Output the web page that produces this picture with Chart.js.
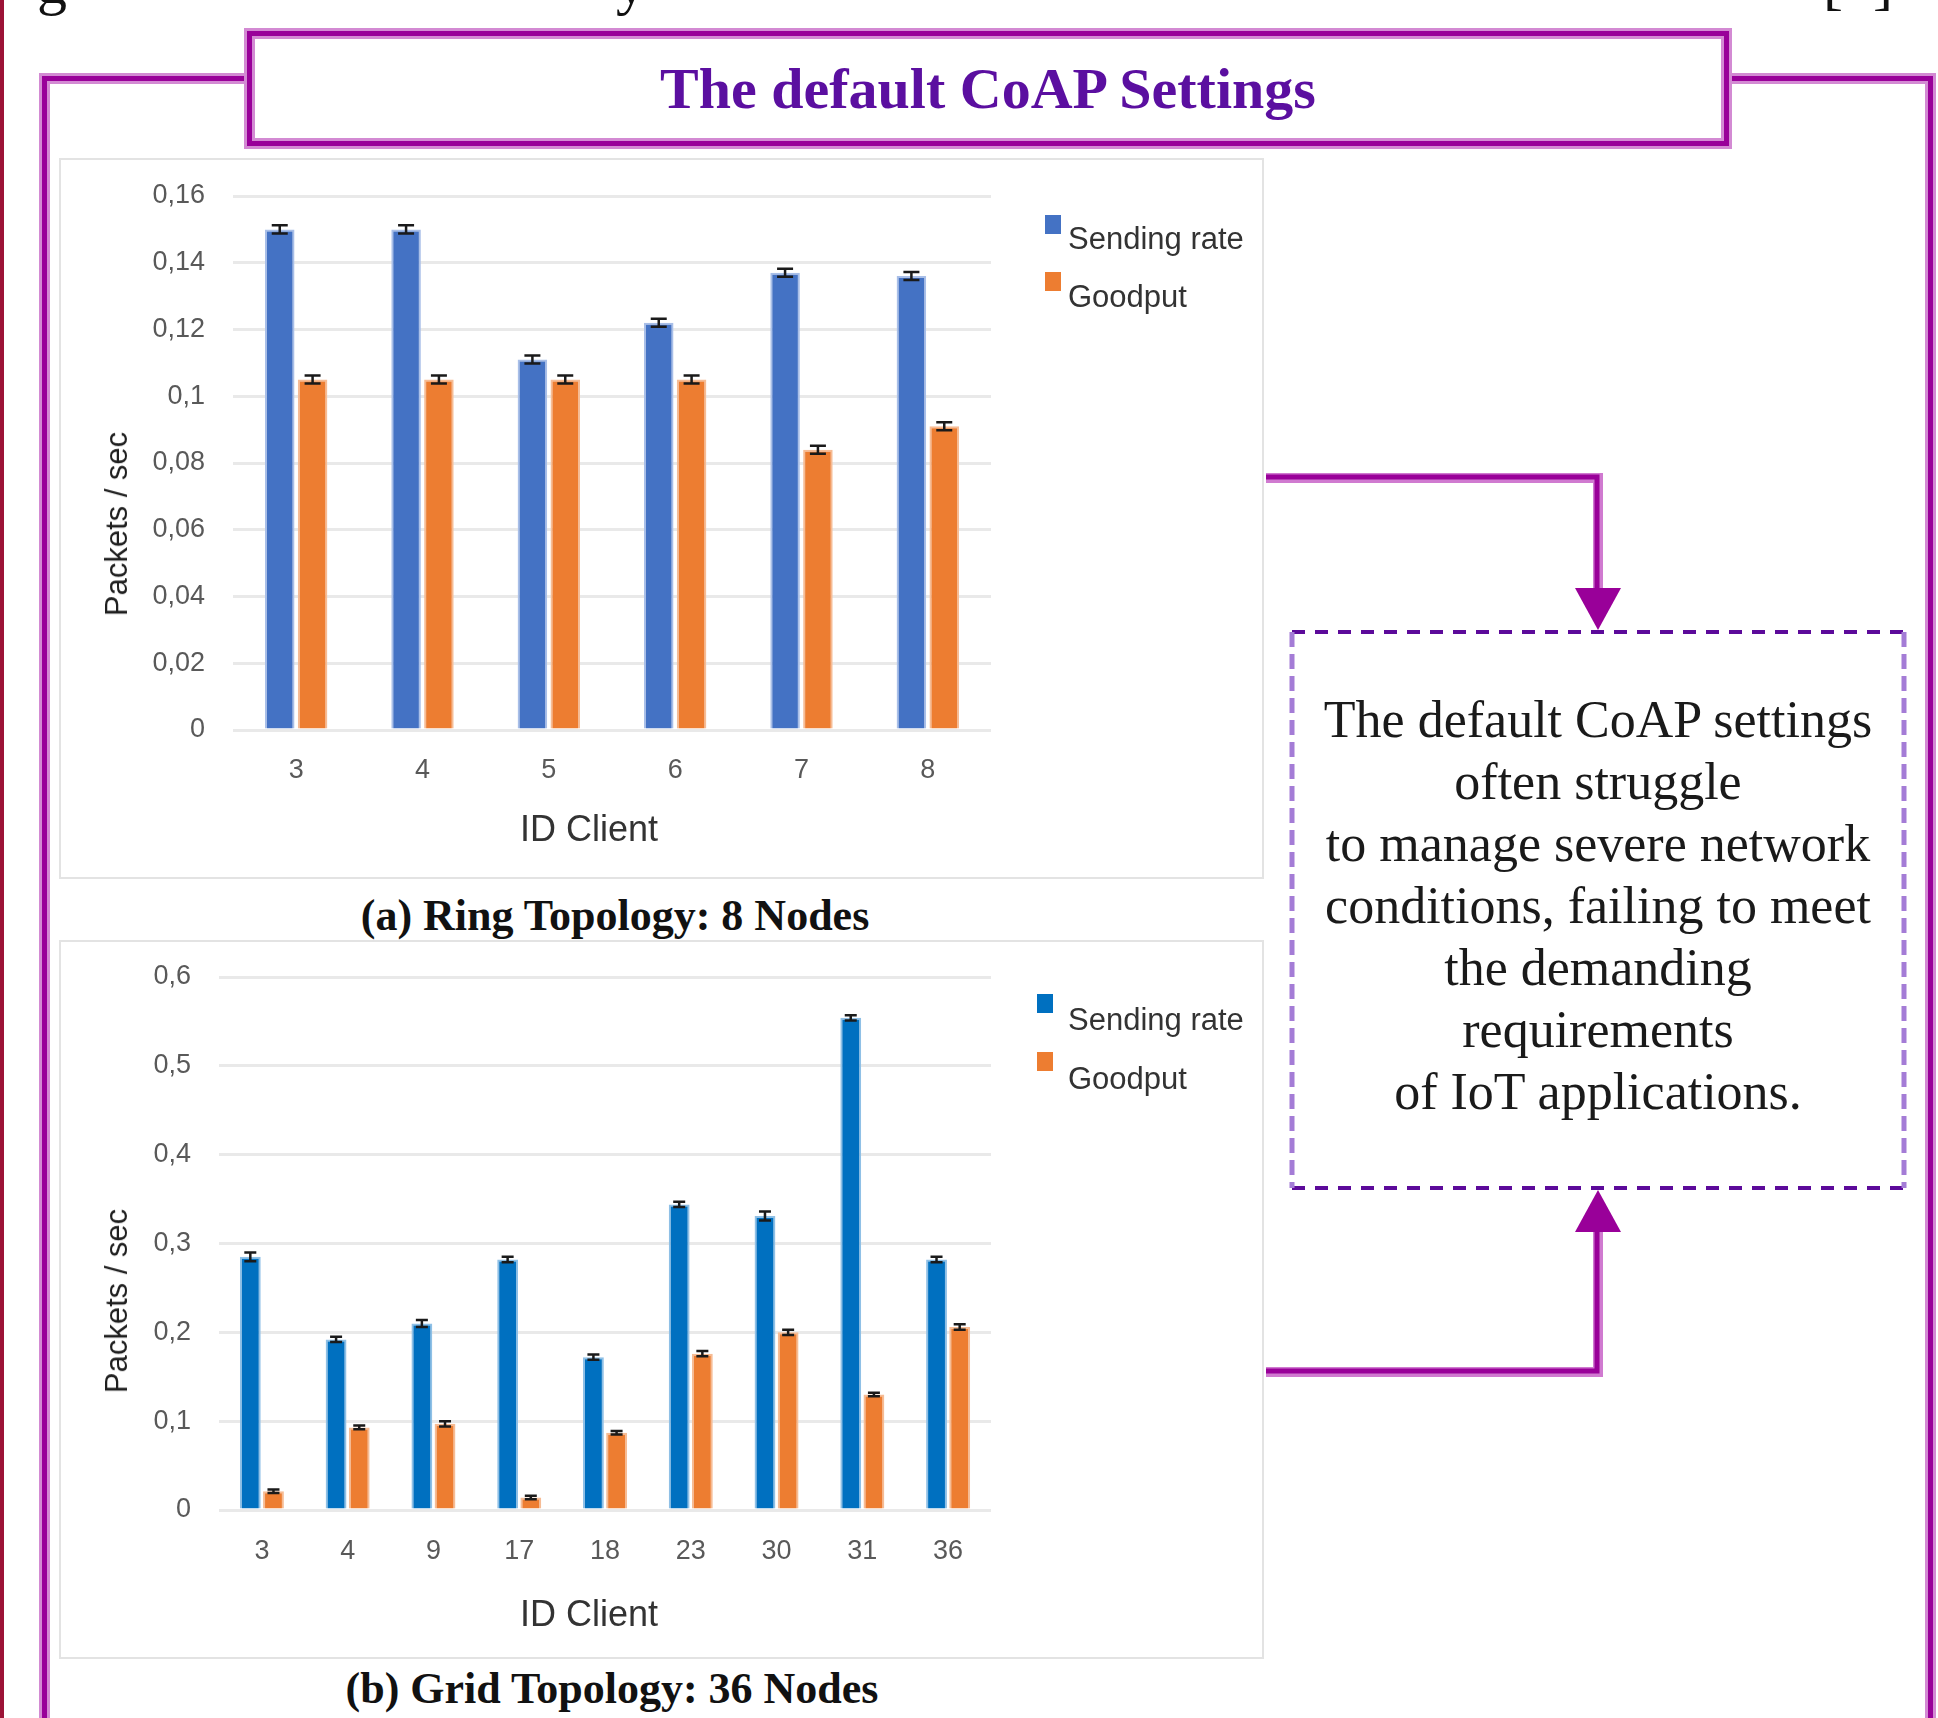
<!DOCTYPE html>
<html>
<head>
<meta charset="utf-8">
<script src="https://cdn.jsdelivr.net/npm/chart.js@4.4.1/dist/chart.umd.min.js"></script>
<style>
  html, body { margin: 0; padding: 0; }
  body { width: 1938px; height: 1718px; position: relative; overflow: hidden; background: #fff;
         font-family: "Liberation Sans", Arial, sans-serif; }
  .abs { position: absolute; box-sizing: border-box; }
  .edge { left: 0; top: 0; width: 4px; height: 1718px; background: #9c1236; }
  .frame { left: 42px; top: 76px; width: 1891px; height: 1800px; border: 5px solid #990099;
           box-shadow: 0 0 0 3px #d38ad3, inset 0 0 0 3px #d38ad3; }
  .titlebox { left: 247px; top: 31px; width: 1482px; height: 115px; background: #fff; border: 5px solid #990099;
              box-shadow: 0 0 0 3px #d38ad3, inset 0 0 0 3px #d38ad3;
              display: flex; align-items: center; justify-content: center; }
  .titlebox span { font-family: "Liberation Serif", serif; font-weight: bold; font-size: 58px; color: #5b0fa0; }
  .panel { background: #fff; border: 2px solid #e3e3e3; }
  .frag { font-family: "Liberation Serif", serif; font-size: 60px; color: #111; top: -51px; line-height: normal; }
  .caption { font-family: "Liberation Serif", serif; font-weight: bold; font-size: 44px; line-height: 44px;
             color: #111; white-space: nowrap; transform: translateX(-50%); }
  .ytitle { font-size: 31px; color: #1f1f1f; white-space: nowrap; transform: translate(-50%, -50%) rotate(-90deg); }
  .xtitle { font-size: 36px; color: #333; white-space: nowrap; transform: translate(-50%, -50%); }
  .legtext { font-size: 31px; color: #333; white-space: nowrap; transform: translateY(-50%); }
  .sw { width: 16px; height: 19px; }
  .note { left: 1296px; top: 689px; width: 604px; text-align: center; font-family: "Liberation Serif", serif;
          font-size: 52px; line-height: 62px; color: #1a1a1a; }
  canvas { position: absolute; }
</style>
</head>
<body>
<div class="abs edge"></div>
<div class="abs frag" style="left:37px;">g</div>
<div class="abs frag" style="left:616px;">y</div>
<div class="abs frag" style="left:1823px;">[&nbsp;&nbsp;]</div>

<div class="abs frame"></div>
<div class="abs titlebox"><span>The default CoAP Settings</span></div>

<div class="abs panel" style="left:59px; top:158px; width:1205px; height:721px;"></div>
<div class="abs panel" style="left:59px; top:940px; width:1205px; height:719px;"></div>

<canvas id="ring" width="1203" height="720" style="left:60px; top:158px;"></canvas>
<canvas id="grid" width="1203" height="718" style="left:60px; top:941px;"></canvas>

<div class="abs ytitle" style="left:117px; top:524px;">Packets / sec</div>
<div class="abs xtitle" style="left:589px; top:829px;">ID Client</div>
<div class="abs ytitle" style="left:117px; top:1301px;">Packets / sec</div>
<div class="abs xtitle" style="left:589px; top:1614px;">ID Client</div>

<div class="abs sw" style="left:1045px; top:215px; background:#4472C4;"></div>
<div class="abs legtext" style="left:1068px; top:239px;">Sending rate</div>
<div class="abs sw" style="left:1045px; top:272px; background:#ED7D31;"></div>
<div class="abs legtext" style="left:1068px; top:297px;">Goodput</div>

<div class="abs sw" style="left:1037px; top:994px; background:#0070C0;"></div>
<div class="abs legtext" style="left:1068px; top:1020px;">Sending rate</div>
<div class="abs sw" style="left:1037px; top:1052px; background:#ED7D31;"></div>
<div class="abs legtext" style="left:1068px; top:1079px;">Goodput</div>

<div class="abs caption" style="left:615px; top:894px;">(a) Ring Topology: 8 Nodes</div>
<div class="abs caption" style="left:612px; top:1667px;">(b) Grid Topology: 36 Nodes</div>

<svg class="abs" style="left:0; top:0;" width="1938" height="1718">
  <polyline points="1266,478 1598,478 1598,592" fill="none" stroke="#d07ad0" stroke-width="10"/>
  <polyline points="1266,477 1597,477 1597,592" fill="none" stroke="#990099" stroke-width="5"/>
  <polygon points="1575,588 1621,588 1598,630" fill="#990099"/>
  <polyline points="1266,1372 1598,1372 1598,1228" fill="none" stroke="#d07ad0" stroke-width="10"/>
  <polyline points="1266,1371 1597,1371 1597,1228" fill="none" stroke="#990099" stroke-width="5"/>
  <polygon points="1575,1232 1621,1232 1598,1190" fill="#990099"/>
  <line x1="1292" y1="632" x2="1904" y2="632" stroke="#5c0a9a" stroke-width="4" stroke-dasharray="13 10"/>
  <line x1="1292" y1="1188" x2="1904" y2="1188" stroke="#5c0a9a" stroke-width="4" stroke-dasharray="13 10"/>
  <line x1="1292" y1="632" x2="1292" y2="1188" stroke="#a47cd6" stroke-width="5" stroke-dasharray="15 7"/>
  <line x1="1904" y1="632" x2="1904" y2="1188" stroke="#a47cd6" stroke-width="5" stroke-dasharray="15 7"/>
</svg>

<div class="abs note">The default CoAP settings<br>often struggle<br>to manage severe network<br>conditions, failing to meet<br>the demanding<br>requirements<br>of IoT applications.</div>

<script>
// (a) ring topology, 8 nodes
const clientsRing = ['3', '4', '5', '6', '7', '8'];
const sendingRing = [0.150, 0.150, 0.111, 0.122, 0.137, 0.136];
const goodputRing = [0.105, 0.105, 0.105, 0.105, 0.084, 0.091];
const sendingRingErr = [0.0012, 0.0012, 0.0012, 0.0012, 0.0012, 0.0012];
const goodputRingErr = [0.0012, 0.0012, 0.0012, 0.0012, 0.0012, 0.0012];
const yTicksRing = ['0', '0,02', '0,04', '0,06', '0,08', '0,1', '0,12', '0,14', '0,16'];

// (b) grid topology, 36 nodes
const clientsGrid = ['3', '4', '9', '17', '18', '23', '30', '31', '36'];
const sendingGrid = [0.285, 0.192, 0.210, 0.282, 0.172, 0.344, 0.331, 0.554, 0.282];
const goodputGrid = [0.021, 0.093, 0.097, 0.014, 0.087, 0.176, 0.200, 0.130, 0.206];
const sendingGridErr = [0.005, 0.003, 0.004, 0.003, 0.003, 0.003, 0.005, 0.003, 0.003];
const goodputGridErr = [0.002, 0.002, 0.003, 0.002, 0.002, 0.003, 0.003, 0.002, 0.003];
const yTicksGrid = ['0', '0,1', '0,2', '0,3', '0,4', '0,5', '0,6'];

const tickFont = { family: '"Liberation Sans", Arial, sans-serif', size: 27 };

// small black error bars on top of each bar
const errorBars = {
  id: 'errorBars',
  afterDatasetsDraw(chart, args, opts) {
    const ctx = chart.ctx;
    const y = chart.scales.y;
    chart.data.datasets.forEach((ds, i) => {
      chart.getDatasetMeta(i).data.forEach((bar, j) => {
        const v = ds.data[j], e = ds.errors[j];
        const t = y.getPixelForValue(v + e), b = y.getPixelForValue(v - e);
        ctx.save();
        ctx.strokeStyle = opts.color;
        ctx.lineWidth = 2.5;
        ctx.beginPath();
        ctx.moveTo(bar.x, t); ctx.lineTo(bar.x, b);
        ctx.moveTo(bar.x - opts.cap / 2, t); ctx.lineTo(bar.x + opts.cap / 2, t);
        ctx.moveTo(bar.x - opts.cap / 2, b); ctx.lineTo(bar.x + opts.cap / 2, b);
        ctx.stroke();
        ctx.restore();
      });
    });
  }
};

function drawChart(id, labels, datasets, yMax, yStep, yTicks, g) {
  new Chart(document.getElementById(id), {
    type: 'bar',
    data: { labels: labels, datasets: datasets },
    options: {
      responsive: false,
      animation: false,
      devicePixelRatio: 1,
      layout: { padding: { top: g.top, right: g.right, left: 0, bottom: 0 } },
      datasets: { bar: { categoryPercentage: g.cat, barPercentage: 0.9, borderWidth: 2 } },
      plugins: {
        legend: { display: false },
        tooltip: { enabled: false },
        errorBars: { color: '#1a1a1a', cap: g.cap }
      },
      scales: {
        x: {
          grid: { display: false, drawTicks: false },
          border: { display: false },
          ticks: { padding: g.xPad, color: '#595959', font: tickFont },
          afterFit: (s) => { s.height = g.xH; }
        },
        y: {
          min: 0,
          max: yMax,
          // invisible tick marks keep the label gap without padding the top
          grid: { color: '#e9e9e9', lineWidth: 3, drawTicks: true, tickLength: 28, tickColor: 'rgba(0,0,0,0)' },
          border: { display: false },
          ticks: { stepSize: yStep, padding: 0, color: '#595959', font: tickFont,
                   callback: (v, i) => yTicks[i] },
          afterFit: (s) => { s.width = g.yW; }
        }
      }
    },
    plugins: [errorBars]
  });
}

drawChart('ring', clientsRing, [
  { label: 'Sending rate', data: sendingRing, errors: sendingRingErr,
    backgroundColor: '#4472C4', borderColor: '#a9bfe8' },
  { label: 'Goodput', data: goodputRing, errors: goodputRingErr,
    backgroundColor: '#ED7D31', borderColor: '#f6bc95' }
], 0.16, 0.02, yTicksRing,
  { top: 38, right: 272, yW: 173, xH: 148, xPad: 24, cat: 0.52, cap: 16 });

drawChart('grid', clientsGrid, [
  { label: 'Sending rate', data: sendingGrid, errors: sendingGridErr,
    backgroundColor: '#0070C0', borderColor: '#8fc0e6' },
  { label: 'Goodput', data: goodputGrid, errors: goodputGridErr,
    backgroundColor: '#ED7D31', borderColor: '#f6bc95' }
], 0.6, 0.1, yTicksGrid,
  { top: 36, right: 272, yW: 159, xH: 149, xPad: 25, cat: 0.54, cap: 12 });
</script>
</body>
</html>
